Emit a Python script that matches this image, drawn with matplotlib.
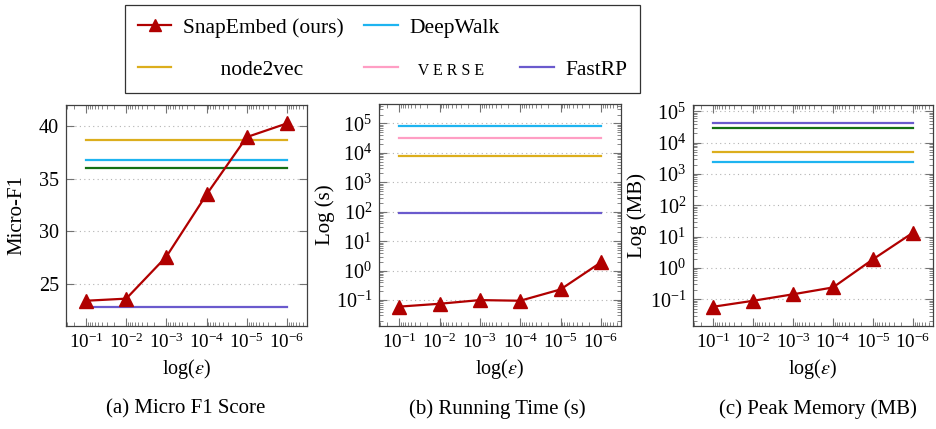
import matplotlib
matplotlib.use("Agg")
import matplotlib.pyplot as plt
from matplotlib.lines import Line2D
from matplotlib.ticker import LogLocator, LogFormatterMathtext, NullFormatter

plt.rcParams['font.family'] = ['Liberation Serif', 'DejaVu Serif']
plt.rcParams['mathtext.fontset'] = 'stix'

# epsilon values on the x axis
eps = [1e-1, 1e-2, 1e-3, 1e-4, 1e-5, 1e-6]

# (a) Micro-F1
f1_snap = [23.4, 23.6, 27.6, 33.5, 38.95, 40.25]
f1_node2vec = 38.7
f1_deepwalk = 36.75
f1_line = 36.0
f1_fastrp = 22.8

# (b) running time in seconds
time_snap = [0.06, 0.075, 0.1, 0.095, 0.23, 1.9]
time_deepwalk = 8.1e4
time_verse = 3.1e4
time_node2vec = 7.7e3
time_fastrp = 88

# (c) peak memory in MB
mem_snap = [0.058, 0.09, 0.145, 0.24, 1.9, 13.4]
mem_fastrp = 4.1e4
mem_line = 2.9e4
mem_node2vec = 4.9e3
mem_deepwalk = 2.4e3

log_yticks = [1e-1, 1e0, 1e1, 1e2, 1e3, 1e4, 1e5]

c_snap = '#b00000'
c_deepwalk = '#1eb4f0'
c_node2vec = '#dcae1d'
c_verse = '#ff9ec4'
c_fastrp = '#6a5acd'
c_line = '#147014'

W, H = 936, 429
fig = plt.figure(figsize=(W / 100, H / 100), dpi=100)


def box(l, r, t, b):
    return [l / W, (H - b) / H, (r - l) / W, (b - t) / H]


ax_a = fig.add_axes(box(66, 307, 105, 326))
ax_b = fig.add_axes(box(379, 621, 104, 326))
ax_c = fig.add_axes(box(693, 933, 105, 326))

lw = 1.6


def hline(ax, y, color):
    ax.plot([eps[0], eps[-1]], [y, y], color=color, lw=lw, zorder=2)


def snap(ax, ys):
    ax.plot(eps, ys, color=c_snap, lw=lw, marker='^', markersize=9.5,
            markeredgecolor=c_snap, zorder=3)


hline(ax_a, f1_node2vec, c_node2vec)
hline(ax_a, f1_deepwalk, c_deepwalk)
hline(ax_a, f1_line, c_line)
hline(ax_a, f1_fastrp, c_fastrp)
snap(ax_a, f1_snap)

hline(ax_b, time_deepwalk, c_deepwalk)
hline(ax_b, time_verse, c_verse)
hline(ax_b, time_node2vec, c_node2vec)
hline(ax_b, time_fastrp, c_fastrp)
snap(ax_b, time_snap)

hline(ax_c, mem_fastrp, c_fastrp)
hline(ax_c, mem_line, c_line)
hline(ax_c, mem_node2vec, c_node2vec)
hline(ax_c, mem_deepwalk, c_deepwalk)
snap(ax_c, mem_snap)

ax_a.set_ylim(21.0, 42.0)
ax_a.set_yticks([25, 30, 35, 40])
ax_b.set_yscale('log')
ax_b.set_ylim(10 ** -1.88, 10 ** 5.66)
ax_c.set_yscale('log')
ax_c.set_ylim(10 ** -1.85, 10 ** 5.2)

ylabels = ['Micro-F1', 'Log (s)', 'Log (MB)']
captions = ['(a) Micro F1 Score', '(b) Running Time (s)', '(c) Peak Memory (MB)']
cap_x = [186, 497, 818]
label_x = [-0.166, -0.18, -0.19]

for ax, yl, cap, cx, lx in zip([ax_a, ax_b, ax_c], ylabels, captions, cap_x, label_x):
    ax.set_xscale('log')
    ax.set_xticks(eps)
    ax.xaxis.set_major_formatter(LogFormatterMathtext())
    ax.xaxis.set_minor_locator(LogLocator(base=10, subs=range(2, 10), numticks=12))
    ax.xaxis.set_minor_formatter(NullFormatter())
    ax.set_xlim(10 ** -0.5, 10 ** -6.5)
    if ax is not ax_a:
        ax.set_yticks(log_yticks)
        ax.yaxis.set_major_formatter(LogFormatterMathtext())
        ax.yaxis.set_minor_locator(LogLocator(base=10, subs=range(2, 10), numticks=12))
        ax.yaxis.set_minor_formatter(NullFormatter())
    ax.tick_params(which='both', direction='in', top=True, right=True,
                   color='0.45', labelsize=14.5, pad=5)
    ax.tick_params(axis='x', labelsize=13.8)
    ax.tick_params(which='major', length=6, width=0.8)
    ax.tick_params(which='minor', length=3, width=0.6)
    ax.grid(True, axis='y', which='major', linestyle=(0, (1, 3)), color='0.7', lw=0.8)
    for s in ax.spines.values():
        s.set_color('0.25')
        s.set_linewidth(0.9)
    ax.set_xlabel(r'log($\epsilon$)', fontsize=14.5, labelpad=3)
    ax.set_ylabel(yl, fontsize=15)
    ax.yaxis.set_label_coords(lx, 0.5)
    fig.text(cx / W, 1 - 409 / H, cap, ha='center', va='center', fontsize=15)

ax_b.set_ylim(10 ** -1.88, 10 ** 5.66)
ax_c.set_ylim(10 ** -1.85, 10 ** 5.2)

handles = [
    Line2D([], [], color=c_snap, lw=lw, marker='^', markersize=8),
    Line2D([], [], color=c_node2vec, lw=lw),
    Line2D([], [], color=c_deepwalk, lw=lw),
    Line2D([], [], color=c_verse, lw=lw),
    Line2D([], [], color='none', lw=0),
    Line2D([], [], color=c_fastrp, lw=lw),
]
labels = ['SnapEmbed (ours)', '       node2vec', 'DeepWalk', '  V E R S E', ' ', 'FastRP']
leg = fig.legend(handles, labels, ncol=3, loc='upper left',
                 bbox_to_anchor=(125 / W, 1 - 5 / H), fontsize=15.5,
                 frameon=True, fancybox=False, edgecolor='black',
                 handlelength=1.55, handletextpad=0.55, columnspacing=0.95,
                 labelspacing=1.0, borderpad=0.6, borderaxespad=0)
leg.get_frame().set_linewidth(0.9)
leg.get_texts()[3].set_fontsize(11.5)

fig.savefig('out.png', dpi=100)
